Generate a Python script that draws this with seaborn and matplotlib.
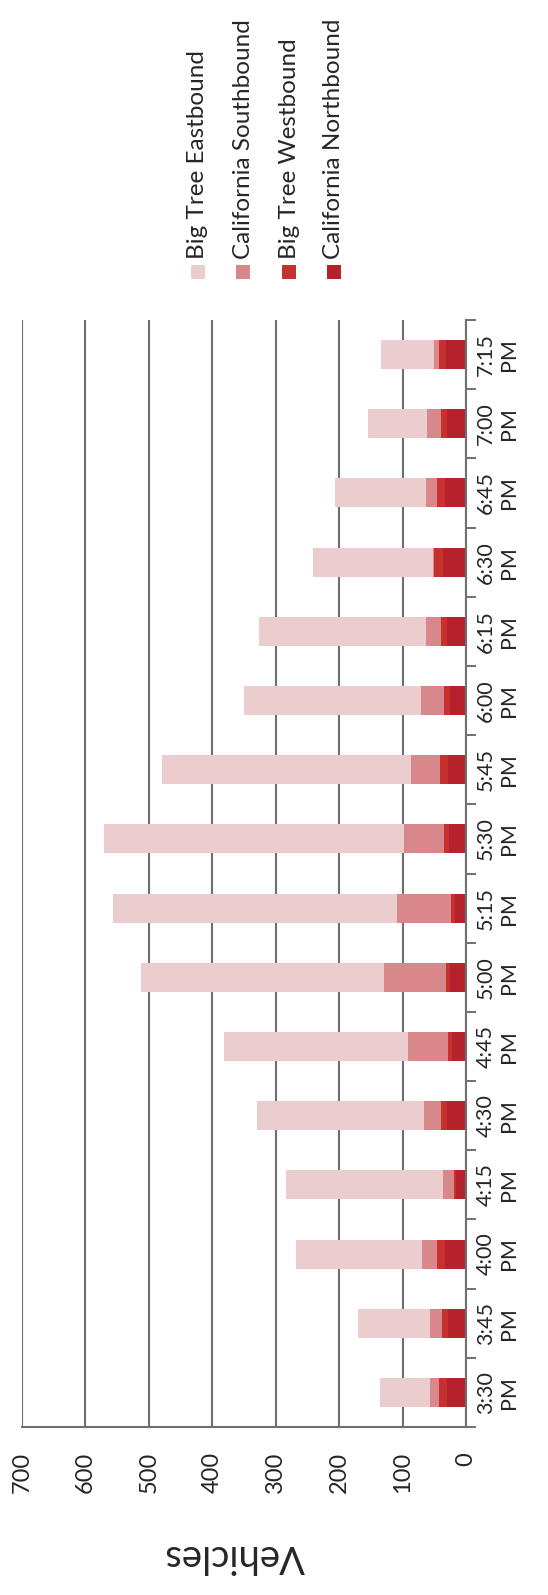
import numpy as np
import pandas as pd
import matplotlib
matplotlib.use("Agg")
import matplotlib.pyplot as plt
import seaborn as sns
from matplotlib.patches import Rectangle
from matplotlib.ticker import FixedLocator

# ---------------- data ----------------
times = ["3:30\nPM", "3:45\nPM", "4:00\nPM", "4:15\nPM", "4:30\nPM", "4:45\nPM",
         "5:00\nPM", "5:15\nPM", "5:30\nPM", "5:45\nPM", "6:00\nPM", "6:15\nPM",
         "6:30\nPM", "6:45\nPM", "7:00\nPM", "7:15\nPM"]
california_northbound = [30, 28, 33, 15, 30, 22, 25, 18, 27, 29, 26, 30, 36, 33, 30, 32]
big_tree_westbound    = [12, 10, 12, 4, 10, 6, 7, 5, 8, 12, 8, 10, 14, 12, 10, 10]
california_southbound = [14, 19, 25, 18, 26, 64, 97, 85, 63, 45, 37, 23, 2, 18, 21, 8]
big_tree_eastbound    = [79, 113, 198, 246, 264, 290, 383, 449, 473, 394, 279, 264, 189, 144, 93, 84]
series_names = ["Big Tree Eastbound", "California Southbound",
                "Big Tree Westbound", "California Northbound"]
series_colors = ["#EBCDCE", "#D8888A", "#C6302F", "#B5222B"]
value_ticks = [0, 100, 200, 300, 400, 500, 600, 700]
axis_title = "Vehicles"

# ---------------- figure ----------------
sns.set_theme(style="white")
plt.rcParams['font.family'] = ['Lato', 'DejaVu Sans']

W, H = 548, 1595
fig = plt.figure(figsize=(W / 100, H / 100), dpi=100)
fig.patch.set_facecolor("white")
ax = fig.add_axes([22 / W, 1 - 1427 / H, 444 / W, 1107 / H])

df = pd.DataFrame({
    "time": times,
    "California Northbound": california_northbound,
    "Big Tree Westbound": big_tree_westbound,
    "California Southbound": california_southbound,
    "Big Tree Eastbound": big_tree_eastbound,
})
stack_order = ["California Northbound", "Big Tree Westbound",
               "California Southbound", "Big Tree Eastbound"]
cum = df[stack_order].cumsum(axis=1)
for name in stack_order:
    df["cum_" + name] = cum[name]

color_map = dict(zip(series_names, series_colors))
order = times[::-1]
# draw from the top of the stack down so lower layers overlay
for name in stack_order[::-1]:
    sns.barplot(data=df, x="cum_" + name, y="time", order=order, orient="h",
                color=color_map[name], saturation=1, width=0.42, ax=ax,
                edgecolor="none", linewidth=0)

ax.set_axisbelow(True)
ax.set_xlim(700, 0)
ax.set_ylim(len(times) - 0.5, -0.5)

text_color = "#262626"
# value axis (bottom)
ax.set_xticks(value_ticks)
ax.set_xticklabels([str(v) for v in value_ticks], rotation=90, fontsize=17, color=text_color)
ax.tick_params(axis="x", direction="out", length=7, width=1.4, color="#707070", pad=11)
ax.grid(axis="x", color="#6e6e6e", linewidth=1.5)
ax.grid(axis="y", visible=False)

# category axis (right)
ax.yaxis.tick_right()
ax.set_yticks(range(len(order)))
ax.set_yticklabels(order, rotation=90, fontsize=15.5, color=text_color,
                   va="center", ha="left", multialignment="center")
ax.tick_params(axis="y", which="major", length=0, pad=7, right=True, left=False)
ax.yaxis.set_minor_locator(FixedLocator(np.arange(-0.5, len(order), 1.0)))
ax.tick_params(axis="y", which="minor", direction="out", length=7, width=1.4,
               color="#707070", right=True, left=False)
ax.set_xlabel("")
ax.set_ylabel("")

for side in ["left", "top"]:
    ax.spines[side].set_visible(False)
for side in ["right", "bottom"]:
    ax.spines[side].set_visible(True)
    ax.spines[side].set_color("#707070")
    ax.spines[side].set_linewidth(1.5)

# axis title (upside down, as in the rotated original)
fig.text(235 / W, 1 - 1556 / H, axis_title, rotation=180, fontsize=27.5,
         ha="center", va="center", color=text_color)

# legend drawn rotated
leg_x = [198, 243, 289, 334]
sw = 14
for name, xc in zip(series_names, leg_x):
    fig.patches.append(Rectangle(((xc - sw / 2) / W, 1 - (272 + sw / 2) / H),
                                 sw / W, sw / H, transform=fig.transFigure,
                                 facecolor=color_map[name], edgecolor="none"))
    fig.text(xc / W, 1 - 259 / H, name, rotation=90, fontsize=17.5,
             ha="center", va="bottom", color=text_color)

fig.savefig("out.png", dpi=100, facecolor="white")
